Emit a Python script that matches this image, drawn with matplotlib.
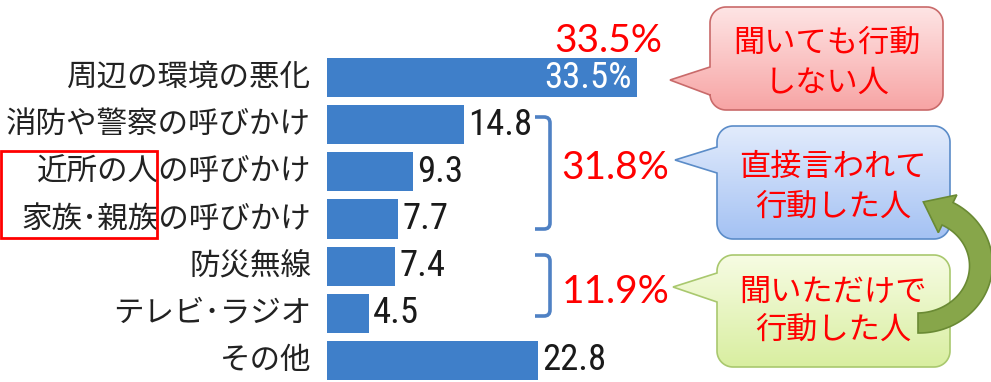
import numpy as np
import matplotlib
matplotlib.use('Agg')
import matplotlib.pyplot as plt
from matplotlib.path import Path
from matplotlib.patches import PathPatch, Rectangle

plt.rcParams['font.family'] = ['Noto Sans CJK JP', 'DejaVu Sans']

# 避難のきっかけ (%)
categories = ['周辺の環境の悪化', '消防や警察の呼びかけ', '近所の人の呼びかけ',
              '家族･親族の呼びかけ', '防災無線', 'テレビ･ラジオ', 'その他']
values = [33.5, 14.8, 9.3, 7.7, 7.4, 4.5, 22.8]
value_labels = ['33.5%', '14.8', '9.3', '7.7', '7.4', '4.5', '22.8']
group_totals = ['33.5%', '31.8%', '11.9%']
bubble_lines = [('聞いても行動', 'しない人'),
                ('直接言われて', '行動した人'),
                ('聞いただけで', '行動した人')]

W, H = 991, 382
bar_color = '#3f7fc9'
red = '#ff0000'

fig = plt.figure(figsize=(W / 100, H / 100), dpi=100)

# bar chart
ax = fig.add_axes([0, 0, 1, 1])
px_per_unit = 9.25
x_origin = 327
row_px, first_row = 47.15, 77.5
ax.barh(range(len(values)), values, height=0.83, color=bar_color)
ax.set_xlim(-x_origin / px_per_unit, (W - x_origin) / px_per_unit)
ax.set_ylim((H - first_row) / row_px, -first_row / row_px)
ax.axis('off')

num_font = ['Liberation Sans Narrow', 'Roboto Condensed', 'Liberation Sans']
for i, (cat, v, lab) in enumerate(zip(categories, values, value_labels)):
    ax.text(-1.7, i, cat, ha='right', va='center', fontsize=22, color='#222222')
    if i == 0:
        ax.text(v - 0.5, i, lab, ha='right', va='center', fontsize=26.5,
                color='white', family=num_font, fontweight='normal')
    else:
        ax.text(v + 0.45, i, lab, ha='left', va='center', fontsize=26.5,
                color='#1a1a1a', family=num_font, fontweight='normal')

# overlay in pixel coordinates for brackets, bubbles, arrow
ov = fig.add_axes([0, 0, 1, 1])
ov.patch.set_alpha(0)
ov.axis('off')


def bracket(y_top, y_bot, x0=535, x1=550, r=6):
    verts = [(x0, y_top), (x1 - r, y_top), (x1, y_top), (x1, y_top + r),
             (x1, y_bot - r), (x1, y_bot), (x1 - r, y_bot), (x0, y_bot)]
    codes = [Path.MOVETO, Path.LINETO, Path.CURVE3, Path.CURVE3,
             Path.LINETO, Path.CURVE3, Path.CURVE3, Path.LINETO]
    ov.add_patch(PathPatch(Path(verts, codes), fill=False, edgecolor='#4f81c4',
                           lw=2.6, capstyle='butt'))


bracket(117, 229)
bracket(255, 316)

pct_font = ['Lato', 'DejaVu Sans']
for txt, (x, y) in zip(group_totals, [(608, 41), (615, 168), (616, 292)]):
    ov.text(x, y, txt, ha='center', va='center', fontsize=28, color=red,
            family=pct_font)


def bubble(x0, y0, x1, y1, pb0, pb1, tip, top_col, bot_col, edge, r=16):
    def arc(cx, cy, a0, a1):
        a = np.radians(np.linspace(a0, a1, 16))
        return list(zip(cx + r * np.cos(a), cy + r * np.sin(a)))
    pts = []
    pts += arc(x1 - r, y0 + r, -90, 0)
    pts += arc(x1 - r, y1 - r, 0, 90)
    pts += arc(x0 + r, y1 - r, 90, 180)
    pts += [(x0, pb1), tip, (x0, pb0)]
    pts += arc(x0 + r, y0 + r, 180, 270)
    pts.append(pts[0])
    path = Path(np.array(pts))
    clip = PathPatch(path, facecolor='none', edgecolor='none')
    ov.add_patch(clip)
    c0 = np.array(matplotlib.colors.to_rgb(top_col))
    c1 = np.array(matplotlib.colors.to_rgb(bot_col))
    t = np.linspace(0, 1, 100)[:, None]
    grad = (c0 * (1 - t) + c1 * t)[:, None, :]
    im = ov.imshow(grad, extent=(tip[0] - 2, x1 + 2, y1 + 2, y0 - 2),
                   aspect='auto', origin='upper', zorder=2)
    im.set_clip_path(clip)
    ov.add_patch(PathPatch(path, facecolor='none', edgecolor=edge, lw=1.2,
                           zorder=3))


bubble(710, 7, 943, 110, 67, 95, (670, 80), '#fee6e6', '#f7a3a3', '#c96a6a')
bubble(717, 126, 950, 239, 147, 173, (675, 160), '#e3ecfc', '#a3c1f3', '#5b8cc8')
bubble(717, 255, 950, 367, 273, 302, (673, 287), '#f7fce4', '#d8ee9f', '#a9c86e')

for (l1, l2), (x, y1, y2) in zip(bubble_lines, [(827, 43, 83), (833, 167, 207),
                                                (833, 292, 330)]):
    ov.text(x, y1, l1, ha='center', va='center', fontsize=22.5, color=red, zorder=4)
    ov.text(x, y2, l2, ha='center', va='center', fontsize=22.5, color=red, zorder=4)

# curved arrow from the green bubble back up to the blue one
cx, cy, rx, ry = 918, 265, 63, 58
t = np.radians(np.linspace(90, -62, 80))
c = np.column_stack([cx + rx * np.cos(t), cy + ry * np.sin(t)])
n = np.column_stack([np.cos(t) / rx, np.sin(t) / ry])
n /= np.linalg.norm(n, axis=1)[:, None]
w = np.linspace(20, 25, len(t))[:, None]
outer = c + n * w / 2
inner = c - n * w / 2
d = np.array([rx * np.sin(t[-1]), -ry * np.cos(t[-1])])
d /= np.linalg.norm(d)
base = c[-1]
tip = base + d * 27
wing_o = base + n[-1] * 21
wing_i = base - n[-1] * 21
poly = np.vstack([outer, wing_o, tip, wing_i, inner[::-1]])
ov.add_patch(plt.Polygon(poly, closed=True, facecolor='#87a64a',
                         edgecolor='#6a8a34', lw=1.2, zorder=5))

# highlight of who made the call
ov.add_patch(Rectangle((1, 151), 156, 87, fill=False, edgecolor=red, lw=2,
                       zorder=6))

ov.set_xlim(0, W)
ov.set_ylim(H, 0)

fig.savefig('out.png', dpi=100)
